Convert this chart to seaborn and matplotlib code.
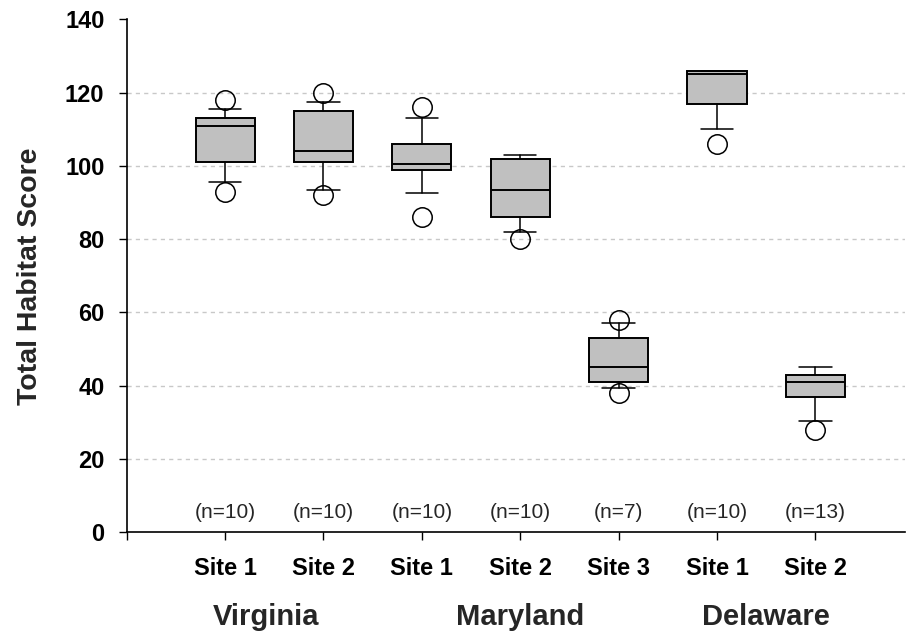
import matplotlib
matplotlib.use("Agg")
import matplotlib.pyplot as plt
import matplotlib.transforms as mtransforms
import seaborn as sns


# Box statistics
sites = ["Site 1", "Site 2", "Site 1", "Site 2", "Site 3", "Site 1", "Site 2"]
states = ["Virginia", "Maryland", "Delaware"]
state_centers = [1.42, 4, 6.5]
n_obs = [10, 10, 10, 10, 7, 10, 13]

q1 = [101, 101, 99, 86, 41, 117, 37]
medians = [111, 104, 100.5, 93.5, 45, 125, 41]
q3 = [113, 115, 106, 102, 53, 126, 43]
whisker_lo = [95.5, 93.5, 92.5, 82, 39.5, 110, 30.5]
whisker_hi = [115.5, 117.5, 113, 103, 57, 126, 45]
outliers = [[93, 118], [92, 120], [86, 116], [80], [38, 58], [106], [28]]


sns.set_theme(style="white")
plt.rcParams["font.family"] = ["Liberation Sans", "DejaVu Sans"]

fig = plt.figure(figsize=(9.06, 6.35), dpi=100)
ax = fig.add_axes([0.1398, 0.1617, 0.859, 0.8079])

stats = []
for i in range(len(sites)):
    stats.append(
        {
            "q1": q1[i],
            "med": medians[i],
            "q3": q3[i],
            "whislo": whisker_lo[i],
            "whishi": whisker_hi[i],
            "fliers": outliers[i],
        }
    )

positions = list(range(1, len(sites) + 1))

# dashed grid behind the boxes
for y in range(20, 140, 20):
    ax.axhline(y, color="#c8c8c8", lw=1, ls=(0, (3, 3)), zorder=0)

ax.bxp(
    stats,
    positions=positions,
    widths=0.6,
    capwidths=0.33,
    patch_artist=True,
    boxprops=dict(facecolor="#c0c0c0", edgecolor="black", lw=1.4),
    medianprops=dict(color="black", lw=1.4),
    whiskerprops=dict(color="black", lw=1.1),
    capprops=dict(color="black", lw=1.1),
    flierprops=dict(
        marker="o",
        markerfacecolor="none",
        markeredgecolor="black",
        markersize=14,
        markeredgewidth=1.1,
    ),
    zorder=3,
)

# sample sizes
for x, n in zip(positions, n_obs):
    ax.text(x, 5.5, f"(n={n})", ha="center", va="center", fontsize=15)

ax.set_xlim(0, 7.91)
ax.set_ylim(0, 140)
ax.set_yticks(range(0, 141, 20))
ax.set_yticklabels([str(v) for v in range(0, 141, 20)], fontweight="bold", fontsize=17)
ax.set_xticks([0] + positions)
ax.set_xticklabels([""] + sites, fontweight="bold", fontsize=17)
ax.tick_params(axis="y", direction="out", length=6, width=1, pad=10, colors="black")
ax.tick_params(axis="x", direction="out", length=6, width=1, pad=12, colors="black")
ax.tick_params(left=True, bottom=True)

ax.set_ylabel("Total Habitat Score", fontweight="bold", fontsize=20.5, labelpad=16)

sns.despine(ax=ax, top=True, right=True)
for side in ["left", "bottom"]:
    ax.spines[side].set_color("black")
    ax.spines[side].set_linewidth(1.2)

trans = mtransforms.blended_transform_factory(ax.transData, ax.transAxes)
for x, name in zip(state_centers, states):
    ax.text(x, -0.166, name, transform=trans, ha="center", va="center",
            fontweight="bold", fontsize=21)

fig.savefig("out.png", dpi=100)
